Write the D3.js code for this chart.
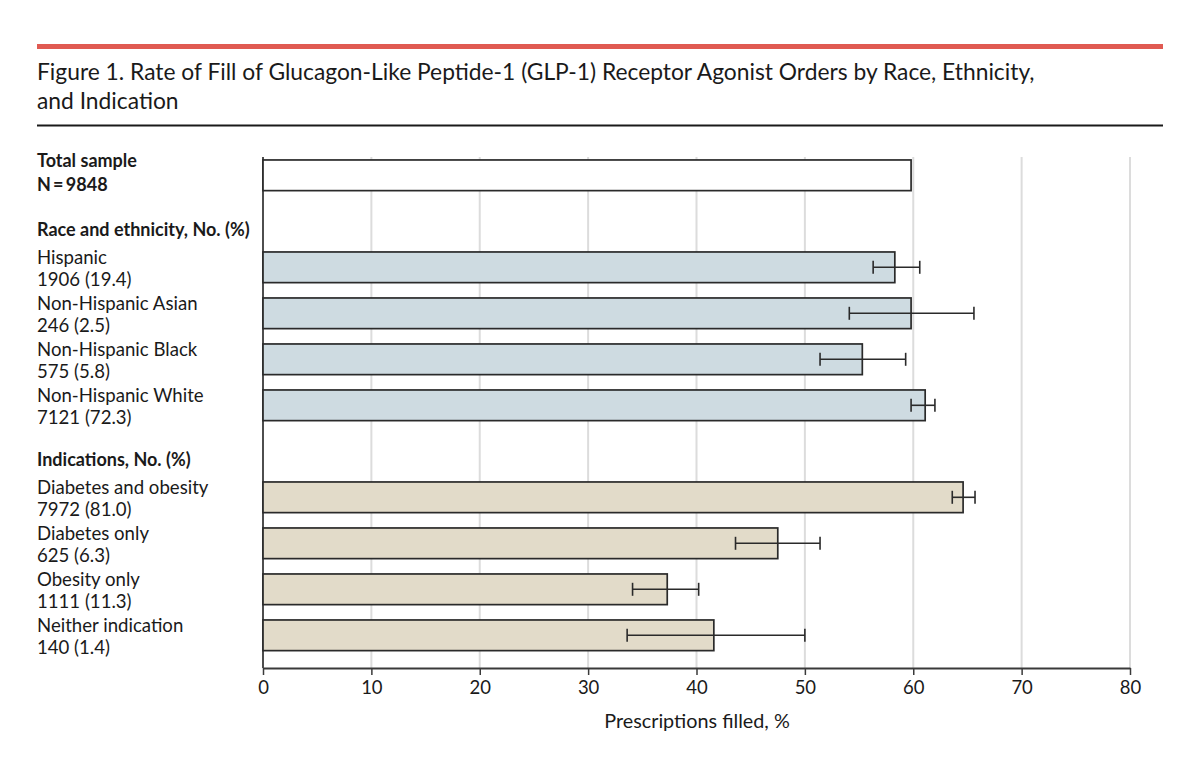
<!DOCTYPE html>
<html>
<head>
<meta charset="utf-8">
<script src="https://cdn.jsdelivr.net/npm/d3@7"></script>
<style>
  html, body { margin: 0; padding: 0; background: #fff; }
  svg { display: block; }
  text { font-family: "Lato", sans-serif; fill: #1a1a1a; }
</style>
</head>
<body>
<svg id="chart" width="1200" height="783"></svg>
<script>
// ---- data ----
const titleLines = [
  "Figure 1. Rate of Fill of Glucagon-Like Peptide-1 (GLP-1) Receptor Agonist Orders by Race, Ethnicity,",
  "and Indication"
];
const categories = ["Total sample", "Hispanic", "Non-Hispanic Asian", "Non-Hispanic Black", "Non-Hispanic White",
  "Diabetes and obesity", "Diabetes only", "Obesity only", "Neither indication"];
const sublabels = ["N\u2009=\u20099848", "1906 (19.4)", "246 (2.5)", "575 (5.8)", "7121 (72.3)",
  "7972 (81.0)", "625 (6.3)", "1111 (11.3)", "140 (1.4)"];
const groups = ["total", "race", "race", "race", "race", "ind", "ind", "ind", "ind"];
const values = [59.8, 58.3, 59.8, 55.3, 61.1, 64.6, 47.5, 37.3, 41.6];
const ciLow  = [null, 56.3, 54.1, 51.4, 59.8, 63.6, 43.6, 34.1, 33.6];
const ciHigh = [null, 60.6, 65.6, 59.3, 62.0, 65.7, 51.4, 40.2, 50.0];
const headers = ["Race and ethnicity, No. (%)", "Indications, No. (%)"];
const rowOrder = ["Total sample", "H:0", "Hispanic", "Non-Hispanic Asian", "Non-Hispanic Black", "Non-Hispanic White",
  "H:1", "Diabetes and obesity", "Diabetes only", "Obesity only", "Neither indication"];
const xTicks = [0, 10, 20, 30, 40, 50, 60, 70, 80];
const xLabel = "Prescriptions filled, %";

const fills = { total: "#ffffff", race: "#cedbe1", ind: "#e2dbc9" };

// ---- layout ----
const svg = d3.select("#chart");
const left = 37, right = 1163;
const plotL = 263, plotR = 1130, plotT = 157, plotB = 668;

// header rules & title
svg.append("rect").attr("x", left).attr("y", 44).attr("width", right - left).attr("height", 5).attr("fill", "#e05a52");
svg.append("rect").attr("x", left).attr("y", 124.5).attr("width", right - left).attr("height", 2).attr("fill", "#1a1a1a");
svg.selectAll("text.title").data(titleLines).join("text")
  .attr("class", "title")
  .attr("x", left).attr("y", (d, i) => 80 + i * 29)
  .attr("font-size", 22.8)
  .text(d => d);

const x = d3.scaleLinear().domain([0, 80]).range([plotL, plotR]);
const y = d3.scaleBand().domain(rowOrder).range([152.3, 658.3]).paddingInner(1/3).paddingOuter(1/6);
const bw = y.bandwidth();
const cy = k => y(k) + bw / 2;

// grid
svg.append("g").selectAll("line").data(xTicks.filter(t => t > 0)).join("line")
  .attr("x1", d => x(d)).attr("x2", d => x(d))
  .attr("y1", plotT).attr("y2", plotB)
  .attr("stroke", "#dcdcdc").attr("stroke-width", 2);

// axis
const axis = d3.axisBottom(x).tickValues(xTicks).tickSize(7).tickSizeOuter(0).tickPadding(6);
const gx = svg.append("g").attr("transform", `translate(0,${plotB})`).call(axis);
gx.select(".domain").attr("stroke", "#3a3a3a").attr("stroke-width", 1.8);
gx.selectAll(".tick line").attr("stroke", "#3a3a3a").attr("stroke-width", 1.5);
gx.selectAll(".tick text").attr("font-size", 18.5).attr("fill", "#1a1a1a")
  .style("font-family", '"Lato", sans-serif');

svg.append("line").attr("x1", plotL).attr("x2", plotL).attr("y1", plotT).attr("y2", plotB)
  .attr("stroke", "#3a3a3a").attr("stroke-width", 1.8);

svg.append("text").attr("x", 697).attr("y", 728)
  .attr("text-anchor", "middle").attr("font-size", 19.8).text(xLabel);

// bars
const rows = categories.map((c, i) => ({ c, sub: sublabels[i], g: groups[i], v: values[i], lo: ciLow[i], hi: ciHigh[i] }));
svg.append("g").selectAll("rect").data(rows).join("rect")
  .attr("x", x(0)).attr("y", d => y(d.c))
  .attr("width", d => x(d.v) - x(0)).attr("height", bw)
  .attr("fill", d => fills[d.g]).attr("stroke", "#2a2a2a").attr("stroke-width", 1.7);

// error bars
const eb = svg.append("g").selectAll("g").data(rows.filter(d => d.lo != null)).join("g")
  .attr("stroke", "#2a2a2a").attr("stroke-width", 1.6);
eb.append("line").attr("x1", d => x(d.lo)).attr("x2", d => x(d.hi)).attr("y1", d => cy(d.c)).attr("y2", d => cy(d.c));
eb.append("line").attr("x1", d => x(d.lo)).attr("x2", d => x(d.lo)).attr("y1", d => cy(d.c) - 6.5).attr("y2", d => cy(d.c) + 6.5);
eb.append("line").attr("x1", d => x(d.hi)).attr("x2", d => x(d.hi)).attr("y1", d => cy(d.c) - 6.5).attr("y2", d => cy(d.c) + 6.5);

// labels
const lab = svg.append("g").selectAll("g").data(rows).join("g");
lab.append("text").attr("x", left).attr("y", d => d.g === "total" ? cy(d.c) - 8 : cy(d.c) - 3.2)
  .attr("font-size", d => d.g === "total" ? 18 : 18.6)
  .attr("font-weight", d => d.g === "total" ? "bold" : "normal").text(d => d.c);
lab.append("text").attr("x", left).attr("y", d => d.g === "total" ? cy(d.c) + 16 : cy(d.c) + 18.5)
  .attr("font-size", d => d.g === "total" ? 18 : 18.6)
  .attr("font-weight", d => d.g === "total" ? "bold" : "normal").text(d => d.sub);

svg.append("g").selectAll("text").data(headers).join("text")
  .attr("x", left).attr("y", (d, i) => cy("H:" + i) + 15)
  .attr("font-size", 18).attr("font-weight", "bold").text(d => d);
</script>
</body>
</html>
